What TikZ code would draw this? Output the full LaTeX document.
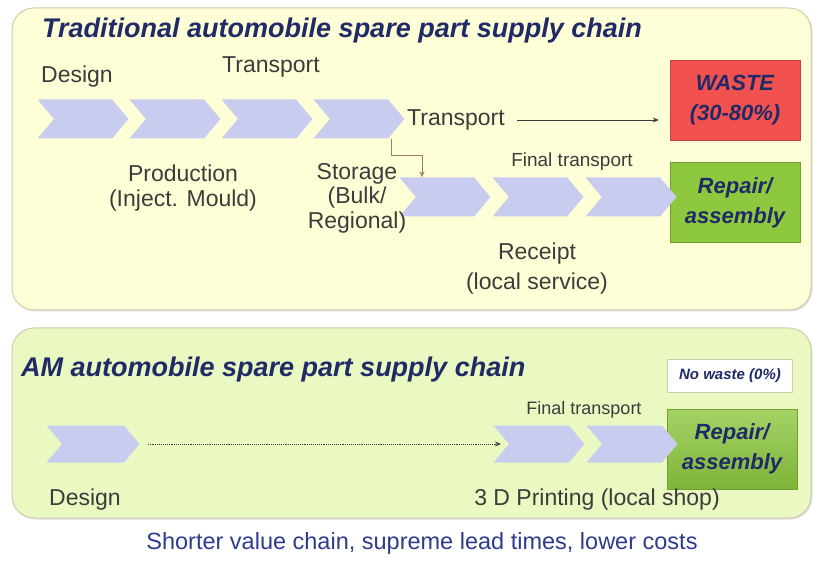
\documentclass[tikz,border=0pt]{standalone}
\usepackage{fontspec}
\setmainfont{Liberation Sans}
\usetikzlibrary{shapes.symbols,shadows,arrows.meta}

\definecolor{panelyellow}{HTML}{FFFFD7}
\definecolor{panelgreen}{HTML}{EAF8C2}
\definecolor{panelline}{HTML}{CFCDAE}
\definecolor{chevblue}{HTML}{C8CDF0}
\definecolor{titlenavy}{HTML}{1F2A66}
\definecolor{labelgray}{HTML}{3C3C3C}
\definecolor{wastered}{HTML}{F2524F}
\definecolor{repairgreen}{HTML}{8DC83F}
\definecolor{notenavy}{HTML}{2E3B8C}

\begin{document}
\begin{tikzpicture}[x=1pt,y=-1pt,
    panel/.style={draw=panelline, line width=1pt, rounded corners=22pt,
        drop shadow={shadow xshift=1.5pt, shadow yshift=-1.5pt, opacity=0.25}},
    chev/.style={signal, signal from=west, signal to=east, signal pointer angle=100,
        fill=chevblue, minimum width=91pt, minimum height=39pt, inner sep=0pt},
    lbl/.style={text=labelgray, align=center, inner sep=0pt,
        font=\fontsize{23}{25}\selectfont},
    small/.style={font=\fontsize{19}{21}\selectfont},
    ttl/.style={text=titlenavy, inner sep=0pt,
        font=\fontsize{27}{29}\selectfont\bfseries\itshape},
    box/.style={text=titlenavy, align=center, minimum width=130pt, minimum height=80pt,
        inner sep=0pt, font=\fontsize{22}{30}\selectfont\bfseries\itshape},
    link/.style={-{Stealth[length=6pt,width=5pt]}, line width=0.9pt, draw=labelgray}]

\useasboundingbox (0,0) rectangle (814,561);

% panels
\draw[panel, fill=panelyellow] (12,8) rectangle (811,310);
\draw[panel, fill=panelgreen] (12,328) rectangle (811,518);

% traditional chain
\node[ttl, anchor=west] (tradttl) at (42,31) {Traditional automobile spare part supply chain};

\node[box, fill=wastered, draw=wastered!80!black] (waste) at (735,100) {WASTE\\(30-80\%)};
\node[box, fill=repairgreen, draw=repairgreen!80!black] (repA) at (735,202.5) {Repair/\\assembly};

\foreach \n/\x in {1/83,2/175,3/267,4/359}
    \node[chev] (c\n) at (\x,119) {};
\foreach \n/\x in {5/445,6/538,7/631}
    \node[chev] (c\n) at (\x,197) {};

\node[lbl, anchor=west] (design) at (41,77) {Design};
\node[lbl] (transA) at (271,67) {Transport};
\node[lbl] (prod) at (183,188) {Production\\(Inject. Mould)};
\node[lbl, font=\fontsize{23}{24.5}\selectfont] (stor) at (357,198) {Storage\\(Bulk/\\Regional)};
\node[lbl, anchor=west] (transB) at (407,120) {Transport};
\node[lbl, small] (finalA) at (572,162) {Final transport};
\node[lbl, font=\fontsize{23}{30}\selectfont] (rec) at (537,269) {Receipt\\(local service)};

\draw[link, draw=brown!45!gray] ([xshift=32pt]c4.south) -- ++(0,17) -| ([xshift=-23pt]c5.north);
\draw[link, shorten <=12pt, shorten >=11pt] (transB.east) -- (transB.east -| waste.west);

% AM chain
\node[ttl, anchor=west] (amttl) at (21,370) {AM automobile spare part supply chain};
\node[draw=panelline, fill=white, text=titlenavy, minimum width=125pt, minimum height=33pt,
    inner sep=0pt, font=\fontsize{15}{17}\selectfont\bfseries\itshape] (nowaste) at (730,376) {No waste (0\%)};
\node[box, top color=repairgreen!80!white, bottom color=repairgreen!90!black,
    draw=repairgreen!80!black] (repB) at (732,449) {Repair/\\assembly};

\node[chev, minimum width=93pt, minimum height=37pt] (ca) at (93,444) {};
\foreach \n/\x in {b/539,c/632}
    \node[chev, minimum height=37pt] (c\n) at (\x,444) {};

\node[lbl, font=\fontsize{18}{20}\selectfont] (finalB) at (584,410) {Final transport};
\node[lbl, anchor=west] (designB) at (49,500) {Design};
\node[lbl] (print) at (597,500) {3 D Printing (local shop)};

\draw[link, densely dotted, shorten <=8pt] (ca.east) -- ([xshift=-38pt]cb.center);

\node[text=notenavy, inner sep=0pt, font=\fontsize{23.5}{25}\selectfont] (summary) at (422,543)
    {Shorter value chain, supreme lead times, lower costs};
\end{tikzpicture}
\end{document}
